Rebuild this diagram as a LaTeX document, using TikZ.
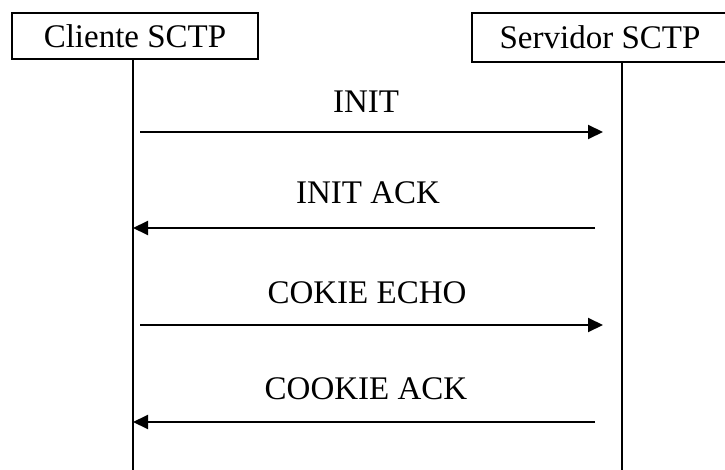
\documentclass[tikz,border=0pt]{standalone}
\usepackage{fontspec}
\setmainfont{Liberation Serif}
\usetikzlibrary{arrows.meta}
\begin{document}
\begin{tikzpicture}[x=1pt,y=-1pt,
  actor/.style={draw,line width=2pt,inner sep=0pt,font=\fontsize{33}{33}\selectfont},
  lbl/.style={inner sep=0pt,font=\fontsize{33}{33}\selectfont},
  life/.style={line width=2pt},
  msg/.style={line width=2pt,-{Triangle[length=15pt,width=14pt]}}]
\useasboundingbox (0,0) rectangle (725,470);
\clip (0,0) rectangle (725,470);
\node[actor,minimum width=246pt,minimum height=46pt] (cli) at (135,36) {Cliente SCTP};
\node[actor,minimum width=262pt,minimum height=49pt] (srv) at (603,37.5) {\hspace*{-3pt}Servidor SCTP\hspace*{3pt}};
\coordinate (cb) at (133,59);
\coordinate (ce) at (133,470);
\coordinate (sb) at (622,62);
\coordinate (se) at (622,470);
\draw[life] (cb) -- (ce);
\draw[life] (sb) -- (se);
\coordinate (a1) at (140,132);
\coordinate (b1) at (603,132);
\coordinate (a2) at (595,228);
\coordinate (b2) at (133,228);
\coordinate (a3) at (140,325);
\coordinate (b3) at (603,325);
\coordinate (a4) at (595,422);
\coordinate (b4) at (133,422);
\draw[msg] (a1) -- (b1);
\draw[msg] (a2) -- (b2);
\draw[msg] (a3) -- (b3);
\draw[msg] (a4) -- (b4);
\node[lbl] (l1) at (366,102) {INIT};
\node[lbl] (l2) at (368,193) {INIT ACK};
\node[lbl] (l3) at (367,293) {COKIE ECHO};
\node[lbl] (l4) at (366,389) {COOKIE ACK};
\end{tikzpicture}
\end{document}
